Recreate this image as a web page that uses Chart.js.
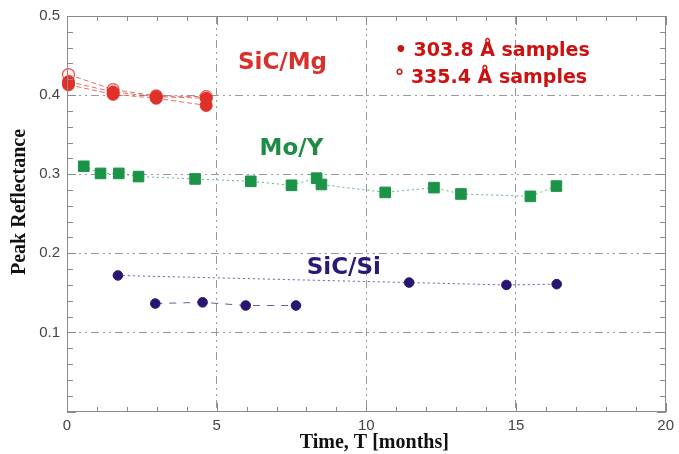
<!DOCTYPE html>
<html>
<head>
<meta charset="utf-8">
<script src="https://cdn.jsdelivr.net/npm/chart.js@4.4.1/dist/chart.umd.min.js"></script>
<style>
html,body{margin:0;padding:0;background:#fff;}
#wrap{width:679px;height:454px;position:relative;}
</style>
</head>
<body>
<div id="wrap"><canvas id="c" width="679" height="454"></canvas></div>
<script>
// ---- data ----
const xTickLabels = [0, 5, 10, 15, 20];
const yTickLabels = [0.1, 0.2, 0.3, 0.4, 0.5];

const sicMgTimes   = [0.05, 1.54, 2.98, 4.65];
const sicMg303a    = [0.417, 0.404, 0.398, 0.396];
const sicMg303b    = [0.413, 0.401, 0.396, 0.387];
const sicMg335     = [0.426, 0.407, 0.399, 0.398];

const moYTimes  = [0.56, 1.12, 1.73, 2.39, 4.28, 6.14, 7.50, 8.34, 8.50, 10.63, 12.26, 13.16, 15.48, 16.35];
const moYValues = [0.310, 0.301, 0.301, 0.297, 0.294, 0.291, 0.286, 0.295, 0.287, 0.277, 0.283, 0.275, 0.272, 0.285];

const sicSiTimesA  = [1.70, 11.43, 14.68, 16.36];
const sicSiValuesA = [0.172, 0.163, 0.160, 0.161];
const sicSiTimesB  = [2.95, 4.53, 5.97, 7.65];
const sicSiValuesB = [0.1365, 0.138, 0.134, 0.134];

const annotations = [
  {text: 'SiC/Mg', x: 7.2, y: 0.441, color: '#d8302a', align: 'center', size: 23},
  {text: 'Mo/Y',   x: 7.5, y: 0.332, color: '#1e8c44', align: 'center', size: 23},
  {text: 'SiC/Si', x: 9.25, y: 0.181, color: '#2a1a78', align: 'center', size: 23},
  {text: '\u2022 303.8 \u00C5 samples', x: 10.95, y: 0.456, color: '#cc1111', align: 'left', size: 19},
  {text: '\u00B0 335.4 \u00C5 samples', x: 10.95, y: 0.421, color: '#cc1111', align: 'left', size: 19}
];
const xTitle = 'Time, T [months]';
const yTitle = 'Peak Reflectance';

const zip = (xs, ys) => xs.map((x, i) => ({x: x, y: ys[i]}));

const RED = '#e0302a';
const REDLINE = 'rgba(222,60,50,0.75)';
const GREEN = '#1b9448';
const NAVY = '#2a1670';
const GRID = '#9a9a9a';

const isMult = (v, m) => Math.abs(v / m - Math.round(v / m)) < 1e-6;

const framePlugin = {
  id: 'frame',
  afterDraw(chart) {
    const {ctx, chartArea: a, scales: {x, y}} = chart;
    ctx.save();
    ctx.setLineDash([]);
    ctx.fillStyle = '#8a8a8a';
    const L = Math.round(a.left), R = Math.round(a.right), T = Math.round(a.top), B = Math.round(a.bottom);
    // box
    ctx.fillRect(L, T, R - L, 1);
    ctx.fillRect(L, B - 1, R - L, 1);
    ctx.fillRect(L, T, 1, B - T);
    ctx.fillRect(R - 1, T, 1, B - T);
    // x ticks (inward, bottom and top)
    for (let v = 0; v <= 20; v += 1) {
      const px = Math.round(x.getPixelForValue(v));
      const len = isMult(v, 5) ? 9 : 5;
      ctx.fillRect(px, B - len, 1, len);
      ctx.fillRect(px, T, 1, len);
    }
    // y ticks (inward, left and right)
    for (let i = 0; i <= 25; i++) {
      const v = i * 0.02;
      const py = Math.round(y.getPixelForValue(v));
      const len = isMult(v, 0.1) ? 9 : 6;
      ctx.fillRect(L, py, len, 1);
      ctx.fillRect(R - len, py, len, 1);
    }
    // annotations
    ctx.textBaseline = 'middle';
    annotations.forEach(an => {
      ctx.font = 'bold ' + an.size + 'px "Comic Sans MS", "DejaVu Sans", sans-serif';
      ctx.fillStyle = an.color;
      ctx.textAlign = an.align;
      ctx.fillText(an.text, x.getPixelForValue(an.x), y.getPixelForValue(an.y));
    });
    // axis titles
    ctx.fillStyle = '#111';
    ctx.font = 'bold 20px "Liberation Serif", "Times New Roman", serif';
    ctx.textAlign = 'center';
    ctx.textBaseline = 'alphabetic';
    ctx.fillText(xTitle, (a.left + a.right) / 2 + 8, 448);
    ctx.save();
    ctx.translate(25, 202);
    ctx.rotate(-Math.PI / 2);
    ctx.fillText(yTitle, 0, 0);
    ctx.restore();
    ctx.restore();
  }
};

new Chart(document.getElementById('c'), {
  type: 'scatter',
  data: {
    datasets: [
      {label: 'SiC/Mg 303.8 a', data: zip(sicMgTimes, sicMg303a), showLine: true,
       borderColor: REDLINE, borderWidth: 1, borderDash: [5, 3],
       pointBackgroundColor: RED, pointBorderColor: RED, pointRadius: 6, pointStyle: 'circle'},
      {label: 'SiC/Mg 303.8 b', data: zip(sicMgTimes, sicMg303b), showLine: true,
       borderColor: REDLINE, borderWidth: 1, borderDash: [5, 3],
       pointBackgroundColor: RED, pointBorderColor: RED, pointRadius: 6, pointStyle: 'circle'},
      {label: 'SiC/Mg 335.4', data: zip(sicMgTimes, sicMg335), showLine: true,
       borderColor: REDLINE, borderWidth: 1, borderDash: [5, 3],
       pointBackgroundColor: 'rgba(255,220,215,0.5)', pointBorderColor: 'rgba(224,48,42,0.8)', pointBorderWidth: 1.2,
       pointRadius: 6, pointStyle: 'circle'},
      {label: 'Mo/Y', data: zip(moYTimes, moYValues), showLine: true,
       borderColor: 'rgba(27,148,72,0.7)', borderWidth: 1, borderDash: [2, 3],
       pointBackgroundColor: GREEN, pointBorderColor: GREEN, pointRadius: 7.5, pointStyle: 'rect'},
      {label: 'SiC/Si a', data: zip(sicSiTimesA, sicSiValuesA), showLine: true,
       borderColor: 'rgba(42,22,112,0.7)', borderWidth: 1, borderDash: [2, 3],
       pointBackgroundColor: NAVY, pointBorderColor: NAVY, pointRadius: 4.8, pointStyle: 'circle'},
      {label: 'SiC/Si b', data: zip(sicSiTimesB, sicSiValuesB), showLine: true,
       borderColor: 'rgba(42,22,112,0.7)', borderWidth: 1, borderDash: [7, 7],
       pointBackgroundColor: NAVY, pointBorderColor: NAVY, pointRadius: 4.8, pointStyle: 'circle'}
    ]
  },
  options: {
    responsive: false,
    animation: false,
    clip: false,
    layout: {padding: {top: 13, right: 10, left: 0, bottom: 0}},
    plugins: {legend: {display: false}, tooltip: {enabled: false}},
    scales: {
      x: {
        type: 'linear', min: 0, max: 20,
        afterFit: s => { s.height = 42.5; },
        border: {display: false, dash: [8, 4, 2, 4, 2, 4]},
        grid: {
          drawTicks: false,
          color: c => (c.tick && xTickLabels.includes(c.tick.value) && c.tick.value > 0 && c.tick.value < 20) ? GRID : 'rgba(0,0,0,0)',
          lineWidth: 1
        },
        ticks: {
          stepSize: 1, autoSkip: false, maxRotation: 0, padding: 5,
          color: '#444', font: {family: '"Liberation Sans", Arial, sans-serif', size: 15},
          callback: v => xTickLabels.includes(v) ? String(v) : ''
        }
      },
      y: {
        type: 'linear', min: 0, max: 0.5,
        afterFit: s => { s.width = 67; },
        border: {display: false, dash: [8, 4, 2, 4, 2, 4]},
        grid: {
          drawTicks: false,
          color: c => (c.tick && c.tick.value > 0.001 && c.tick.value < 0.499 && isMult(c.tick.value, 0.1)) ? GRID : 'rgba(0,0,0,0)',
          lineWidth: 1
        },
        ticks: {
          stepSize: 0.1, autoSkip: false, padding: 7,
          color: '#444', font: {family: '"Liberation Sans", Arial, sans-serif', size: 15},
          callback: v => yTickLabels.some(t => Math.abs(t - v) < 1e-6) ? v.toFixed(1) : ''
        }
      }
    }
  },
  plugins: [framePlugin]
});
</script>
</body>
</html>
